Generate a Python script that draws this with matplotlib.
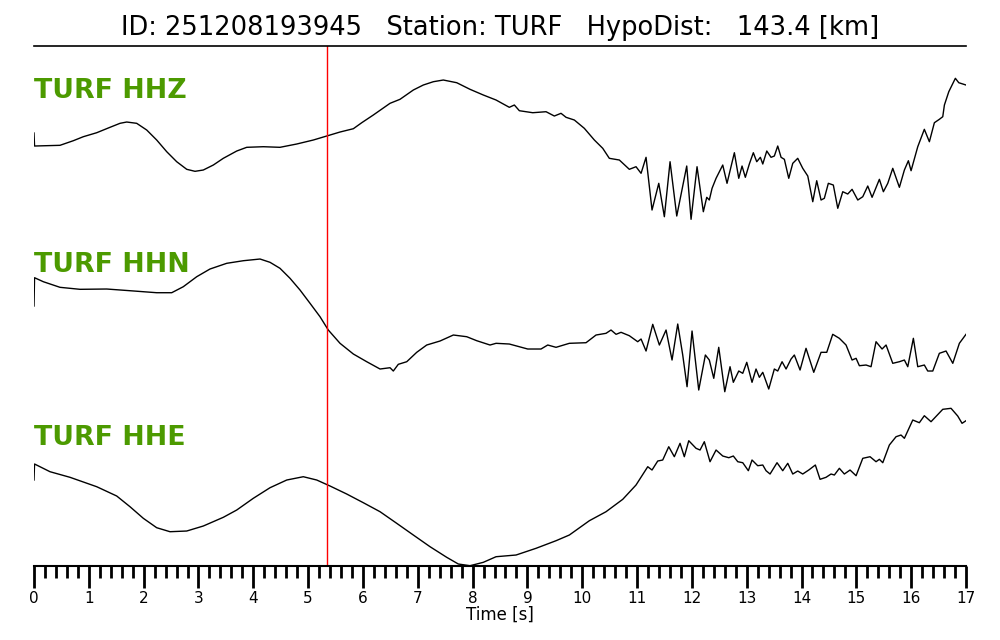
import matplotlib
matplotlib.use('Agg')
import matplotlib.pyplot as plt
import numpy as np


event_id = '251208193945'
station = 'TURF'
hypo_dist = 143.4
channels = ['HHZ', 'HHN', 'HHE']
p_pick = 5.345

# traces (time [s], amplitude [arb. units])
t_hhz = [0.0, 0.01, 0.474, 0.717, 0.899, 1.144, 1.386, 1.569, 1.691, 1.873, 2.056, 2.238, 2.421, 2.603,
         2.786, 2.937, 3.088, 3.271, 3.453, 3.698, 3.880, 4.183, 4.487, 4.792, 5.095, 5.339, 5.582, 5.825,
         5.978, 6.189, 6.494, 6.676, 6.919, 7.101, 7.284, 7.466, 7.711, 7.953, 8.196, 8.428, 8.670, 8.762,
         8.853, 9.097, 9.340, 9.491, 9.613, 9.705, 9.856, 10.038, 10.221, 10.374, 10.494, 10.677, 10.859,
         10.981, 11.073, 11.164, 11.273, 11.396, 11.498, 11.602, 11.724, 11.906, 11.985, 12.094, 12.209,
         12.271, 12.318, 12.368, 12.441, 12.563, 12.641, 12.775, 12.855, 12.915, 12.975, 13.048, 13.121,
         13.183, 13.249, 13.293, 13.366, 13.444, 13.504, 13.566, 13.627, 13.687, 13.767, 13.840, 13.931,
         14.022, 14.114, 14.205, 14.277, 14.356, 14.416, 14.489, 14.580, 14.661, 14.752, 14.843, 14.922,
         15.026, 15.117, 15.208, 15.287, 15.420, 15.493, 15.573, 15.664, 15.785, 15.876, 15.949, 15.998,
         16.120, 16.240, 16.332, 16.423, 16.514, 16.576, 16.606, 16.686, 16.806, 16.868, 17.0]
a_hhz = [17, 4, 4.7, 9.3, 13.3, 17.3, 22.7, 26.7, 28, 26.7, 20, 10, -1.7, -11.7,
         -19.3, -21.3, -20, -15, -8.3, -1, 2.7, 3.3, 2.7, 6, 10, 14, 18, 21.3,
         27.3, 35, 46.7, 50.7, 60, 65, 68.3, 70, 67.3, 60.7, 55, 50, 42.7, 45,
         39.3, 37.3, 38.3, 34, 36.7, 32.7, 30, 21.7, 10, 1.7, -8.3, -10, -19.3,
         -16.7, -23.3, -7.3, -60, -33.3, -66.7, -11.7, -66, -16, -69.3, -16.7, -61.7,
         -47.3, -50, -38.3, -28.3, -15, -33.3, -2.7, -28.3, -16, -27.3, -14, -2.7,
         -11.7, -7.3, -14, -1, -7.3, -6, 4, -7.3, -9.3, -28.3, -13.3, -8.3,
         -18.3, -26, -51.7, -30.7, -50, -48.3, -33.3, -35, -58.3, -41.7, -44, -39.3,
         -50, -46.7, -36, -47.3, -29.3, -41.7, -33.3, -18.3, -37.3, -20, -10.7, -20.7,
         3.3, 20.7, 8.3, 27.3, 30.7, 33.3, 45, 58.3, 71.7, 67.3, 65]

t_hhn = [0.0, 0.01, 0.170, 0.474, 0.839, 1.326, 1.751, 2.238, 2.512, 2.723, 2.968, 3.210, 3.515, 3.818,
         4.123, 4.305, 4.487, 4.670, 4.852, 5.035, 5.217, 5.368, 5.582, 5.825, 6.069, 6.312, 6.494, 6.554,
         6.645, 6.799, 6.981, 7.163, 7.406, 7.649, 7.893, 8.076, 8.318, 8.428, 8.670, 9.006, 9.248, 9.371,
         9.522, 9.765, 10.069, 10.252, 10.434, 10.525, 10.617, 10.708, 10.859, 11.012, 11.073, 11.164,
         11.286, 11.407, 11.529, 11.638, 11.742, 11.833, 11.912, 12.003, 12.125, 12.246, 12.318, 12.399,
         12.490, 12.600, 12.696, 12.756, 12.855, 12.928, 13.001, 13.097, 13.170, 13.231, 13.293, 13.402,
         13.504, 13.566, 13.645, 13.718, 13.809, 13.869, 13.973, 14.082, 14.223, 14.356, 14.460, 14.569,
         14.690, 14.812, 14.922, 14.995, 15.055, 15.177, 15.268, 15.359, 15.469, 15.542, 15.664, 15.785,
         15.876, 15.938, 16.040, 16.120, 16.240, 16.302, 16.394, 16.514, 16.636, 16.759, 16.879, 17.0]
a_hhn = [14, 42.3, 38.3, 32.7, 30.7, 31, 29.3, 27.3, 27.3, 33.3, 43.3, 51, 56.7, 59.3,
         61, 57.7, 51.7, 41.7, 30, 16.7, 3.3, -10, -23.3, -34, -41.7, -49, -47.7, -51,
         -44.3, -41.7, -32.3, -25, -21, -15, -16.7, -20.7, -25, -23.3, -24, -29, -29, -25,
         -27.3, -23.3, -22.7, -15, -13.3, -10, -14.3, -12.3, -15.7, -21.7, -19, -31,
         -4.3, -25, -10, -40, -4, -35, -66.7, -11, -70, -35, -40, -58.3,
         -27.3, -71.7, -46.7, -62.3, -51, -53.3, -42.3, -62.3, -49, -57.3, -52.3, -69,
         -49, -51, -41.7, -49, -39, -35, -50, -28.3, -52.3, -32.3, -32.3, -14.3,
         -18.3, -25, -40, -38.3, -45.7, -45, -46.7, -21.7, -29, -25, -43.3, -41.7,
         -40, -46.7, -18.3, -46.7, -45, -51, -51, -33.3, -31, -43.3, -23.3, -14.3]

t_hhe = [0.0, 0.01, 0.292, 0.657, 1.144, 1.509, 1.751, 1.994, 2.238, 2.481, 2.786, 3.088, 3.453, 3.698,
         4.000, 4.305, 4.610, 4.912, 5.157, 5.400, 5.704, 6.007, 6.312, 6.616, 6.919, 7.224, 7.528, 7.740,
         7.953, 8.196, 8.428, 8.793, 9.157, 9.522, 9.765, 10.130, 10.434, 10.739, 10.981, 11.195, 11.273,
         11.377, 11.468, 11.578, 11.680, 11.784, 11.862, 11.943, 12.076, 12.149, 12.227, 12.331, 12.441,
         12.563, 12.673, 12.756, 12.837, 12.928, 13.030, 13.097, 13.201, 13.293, 13.353, 13.426, 13.553,
         13.657, 13.749, 13.840, 13.931, 14.022, 14.132, 14.252, 14.338, 14.447, 14.538, 14.599, 14.690,
         14.781, 14.885, 14.995, 15.117, 15.250, 15.359, 15.420, 15.482, 15.602, 15.724, 15.815, 15.876,
         16.029, 16.149, 16.240, 16.362, 16.576, 16.727, 16.849, 16.928, 17.0]
a_hhe = [20, 36, 28.3, 22.7, 13.3, 4, -6.7, -18.3, -27.7, -31.7, -31, -26, -17.3, -10,
         1.7, 12.3, 20, 23.3, 20, 14, 6, -2.7, -11.7, -23.3, -35, -46.7, -57.3, -64,
         -65.7, -62.3, -56.7, -55, -48.3, -40.7, -35, -20.7, -11.7, 0.7, 15, 33.3, 30,
         39, 40, 53.3, 43.3, 56.7, 43.3, 59.3, 51.7, 50, 58.3, 38.3, 50,
         44, 42.3, 44, 38.3, 37.3, 29.3, 40, 34.3, 35, 29.3, 26, 37.3,
         29.3, 36.7, 26, 29, 26, 30, 35, 20.7, 22.7, 26, 25, 31.7,
         26, 30, 24.3, 41.7, 43.3, 38.3, 40.7, 37.3, 55, 63.3, 65, 61.7,
         80, 77.3, 84.3, 78.3, 90.7, 91.7, 84, 76.7, 79.3]


if __name__ == "__main__":

    times = [t_hhz, t_hhn, t_hhe]
    amps = [a_hhz, a_hhn, a_hhe]
    offsets = [416, 246, 66]
    label_y = [475, 301, 128]

    fig = plt.figure(figsize=(10, 6.4), dpi=100)
    ax = fig.add_axes([0.034, 0.1156, 0.932, 0.8125])

    for t, a, off, ch, ly in zip(times, amps, offsets, channels, label_y):
        ax.plot(t, np.array(a) + off, color='black', lw=1.0, solid_joinstyle='round')
        ax.text(0, ly, f'{station} {ch}', color='#4c9a00', fontsize=19.3,
                fontweight='bold', ha='left', va='center')

    ax.axvline(p_pick, color='red', lw=1.0)

    ax.set_xlim(0, 17)
    ax.set_ylim(0, 520)
    ax.spines['left'].set_visible(False)
    ax.spines['right'].set_visible(False)
    ax.spines['top'].set_linewidth(1.2)
    ax.spines['bottom'].set_linewidth(1.5)
    ax.set_yticks([])
    ax.set_xticks(np.arange(0, 18, 1))
    ax.set_xticks(np.arange(0, 17.01, 0.2), minor=True)
    ax.tick_params(axis='x', which='major', length=16, width=2, labelsize=11, pad=2)
    ax.tick_params(axis='x', which='minor', length=8.5, width=2)
    ax.set_xlabel('Time [s]', fontsize=12, labelpad=0)

    ax.set_title(f'ID: {event_id}   Station: {station}   HypoDist:   {hypo_dist} [km]',
                 fontsize=18.5, pad=8)

    fig.savefig('out.png', dpi=100)
